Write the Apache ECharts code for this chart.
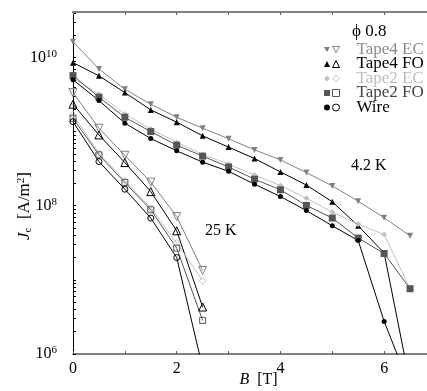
<!DOCTYPE html>
<html>
<head>
<meta charset="utf-8">
<script src="https://cdn.jsdelivr.net/npm/echarts@6/dist/echarts.min.js"></script>
<style>
html, body { margin: 0; padding: 0; background: #fff; }
#chart { width: 427px; height: 391px; }
</style>
</head>
<body>
<div id="chart"></div>
<script>
// Magnetic field B [T] at which Jc was measured
const fieldLow = [0, 0.5, 1, 1.5, 2, 2.5, 3, 3.5, 4, 4.5, 5, 5.5, 6, 6.5]; // 4.2 K sweep
const fieldHigh = [0, 0.5, 1, 1.5, 2, 2.5];                                // 25 K sweep

// Critical current density Jc [A/m^2] at 4.2 K
const tape4EC_4K = [1.63e10, 7.0e9, 3.72e9, 2.34e9, 1.56e9, 1.11e9, 8.0e8, 5.66e8, 4.15e8, 2.80e8, 1.85e8, 1.15e8, 6.87e7, 3.93e7];
const tape4FO_4K = [8.51e9, 5.64e9, 3.36e9, 1.96e9, 1.34e9, 8.75e8, 6.17e8, 4.33e8, 2.86e8, 1.90e8, 1.13e8, 5.36e7, 2.30e7, 4.0e5];
const tape2EC_4K = [5.25e9, 3.19e9, 1.73e9, 1.08e9, 7.19e8, 4.91e8, 3.63e8, 2.59e8, 1.87e8, 1.26e8, 8.20e7, 5.66e7, 4.09e7, 7.59e6];
const tape2FO_4K = [5.69e9, 2.91e9, 1.56e9, 1.00e9, 6.56e8, 4.66e8, 3.33e8, 2.28e8, 1.64e8, 1.01e8, 6.82e7, 3.66e7, 2.27e7, 7.59e6];
const wire_4K    = [5.0e9, 2.62e9, 1.30e9, 8.05e8, 5.50e8, 3.87e8, 2.91e8, 1.95e8, 1.33e8, 8.61e7, 5.36e7, 3.39e7, 2.75e6, 3.6e5];

// Critical current density Jc [A/m^2] at 25 K
const tape4EC_25K = [3.36e9, 1.11e9, 4.79e8, 2.08e8, 7.14e7, 1.34e7];
const tape4FO_25K = [2.34e9, 9.02e8, 3.82e8, 1.55e8, 4.59e7, 4.30e6];
const tape2EC_25K = [1.68e9, 5.12e8, 2.17e8, 9.29e7, 3.13e7, 9.73e6];
const tape2FO_25K = [1.51e9, 4.85e8, 2.06e8, 8.81e7, 2.68e7, 2.84e6];
const wire_25K    = [1.36e9, 3.94e8, 1.67e8, 6.81e7, 2.00e7, 6.5e5];

// Axis ticks
const xTicks = [0, 1, 2, 3, 4, 5, 6, 7];
const xLabels = [0, 2, 4, 6];
const yLabelExps = [6, 8, 10];
const yMin = 1e6, yMax = 4.1e10;

const SERIF = 'Liberation Serif';
const HOLLOW = 'rgba(0,0,0,0)';
const downTri = 'path://M0,0L10,0L5,8.66Z';

// decade ticks plus 2..9 minor ticks of a log axis
const yTickValues = [];
for (let e = 6; e <= 10; e++) {
  for (let m = 1; m <= 9; m++) {
    const v = m * Math.pow(10, e);
    if (v <= yMax) yTickValues.push(v);
  }
}

const pairs = (xs, ys) => xs.map((x, i) => [x, ys[i]]);

const groups = [
  { label: 'Tape4 EC', color: '#808080', text: '#8c8c8c', symbol: 'triangle', rotate: 180, legendIcon: downTri,
    low: tape4EC_4K, high: tape4EC_25K, fillSize: 6, openSize: 8 },
  { label: 'Tape4 FO', color: '#000000', text: '#000000', symbol: 'triangle', rotate: 0, legendIcon: 'triangle',
    low: tape4FO_4K, high: tape4FO_25K, fillSize: 6, openSize: 8 },
  { label: 'Tape2 EC', color: '#c2c2c2', text: '#bcbcbc', symbol: 'diamond', rotate: 0, legendIcon: 'diamond',
    low: tape2EC_4K, high: tape2EC_25K, fillSize: 6, openSize: 7 },
  { label: 'Tape2 FO', color: '#555555', text: '#444444', symbol: 'rect', rotate: 0, legendIcon: 'rect',
    low: tape2FO_4K, high: tape2FO_25K, fillSize: 7, openSize: 6 },
  { label: 'Wire', color: '#000000', text: '#000000', symbol: 'circle', rotate: 0, legendIcon: 'circle',
    low: wire_4K, high: wire_25K, fillSize: 5, openSize: 6 }
];

const series = [];
groups.forEach(g => {
  series.push({
    name: g.label + ' (4.2 K)',
    type: 'line',
    data: pairs(fieldLow, g.low),
    symbol: g.symbol,
    symbolRotate: g.rotate,
    symbolSize: g.fillSize,
    showAllSymbol: true,
    lineStyle: { color: g.color, width: 1 },
    itemStyle: { color: g.color, borderWidth: 0 },
    clip: true
  });
  series.push({
    name: g.label,
    type: 'line',
    data: pairs(fieldHigh, g.high),
    symbol: g.symbol,
    symbolRotate: g.rotate,
    symbolSize: g.openSize,
    showAllSymbol: true,
    lineStyle: { color: g.color, width: 1 },
    itemStyle: { color: HOLLOW, borderColor: g.color, borderWidth: 1 },
    clip: true
  });
});

const legendText = { fontFamily: SERIF, fontSize: 17, lineHeight: 14.5 };

const chart = echarts.init(document.getElementById('chart'), null, { renderer: 'canvas' });
chart.setOption({
  animation: false,
  backgroundColor: '#ffffff',
  grid: { left: 73, right: -9, top: 12, bottom: 37, containLabel: false, outerBoundsMode: 'none' },
  xAxis: [
    {
      type: 'value', min: 0, max: 7, interval: 1, position: 'bottom',
      name: '{i|B}{n|  [T]}',
      nameLocation: 'middle', nameGap: 18, nameMoveOverlap: false,
      nameTextStyle: {
        padding: [0, 0, 0, 8],
        rich: {
          i: { fontFamily: SERIF, fontSize: 16, fontStyle: 'italic', color: '#000' },
          n: { fontFamily: SERIF, fontSize: 16, color: '#000' }
        }
      },
      axisLine: { show: true, lineStyle: { color: '#808080', width: 2 } },
      axisTick: { show: true, inside: true, length: 3, customValues: xTicks, lineStyle: { color: '#606060', width: 1 } },
      axisLabel: {
        customValues: xLabels, margin: 7,
        fontFamily: SERIF, fontSize: 16, color: '#000'
      },
      splitLine: { show: false }
    },
    {
      type: 'value', min: 0, max: 7, interval: 1, position: 'top',
      axisLine: { show: true, lineStyle: { color: '#808080', width: 2 } },
      axisTick: { show: true, inside: true, length: 3, customValues: xTicks, lineStyle: { color: '#606060', width: 1 } },
      axisLabel: { show: false },
      splitLine: { show: false }
    }
  ],
  yAxis: {
    type: 'log', logBase: 10, min: yMin, max: yMax,
    name: '{j|J}{c|c}{u|  [A/m}{s|2}{u|]}',
    nameLocation: 'middle', nameRotate: 90, nameGap: 39, nameMoveOverlap: false,
    nameTextStyle: {
      padding: [0, 46, 0, 0],
      rich: {
        j: { fontFamily: SERIF, fontSize: 17, fontStyle: 'italic', color: '#000', lineHeight: 18, verticalAlign: 'middle' },
        c: { fontFamily: SERIF, fontSize: 11, color: '#000', lineHeight: 18, verticalAlign: 'bottom' },
        u: { fontFamily: SERIF, fontSize: 17, color: '#000', lineHeight: 18, verticalAlign: 'middle' },
        s: { fontFamily: SERIF, fontSize: 11, color: '#000', lineHeight: 18, verticalAlign: 'top' }
      }
    },
    axisLine: { show: true, lineStyle: { color: '#000', width: 1 } },
    axisTick: { show: true, inside: true, length: 3, customValues: yTickValues, lineStyle: { color: '#000', width: 1 } },
    axisLabel: {
      customValues: yLabelExps.map(e => Math.pow(10, e)),
      margin: 16,
      formatter: v => '{b|10}{s|' + Math.round(Math.log10(v)) + '}',
      rich: {
        b: { fontFamily: SERIF, fontSize: 16, color: '#000', lineHeight: 18, verticalAlign: 'middle' },
        s: { fontFamily: SERIF, fontSize: 11, color: '#000', lineHeight: 18, verticalAlign: 'top' }
      }
    },
    splitLine: { show: false }
  },
  legend: [
    {
      orient: 'vertical', left: 324, top: 41, itemGap: -2.5, padding: 0,
      selectedMode: false,
      itemWidth: 6, itemHeight: 6,
      formatter: () => ' ',
      textStyle: legendText,
      data: groups.map(g => ({
        name: g.label + ' (4.2 K)',
        icon: g.legendIcon,
        itemStyle: { color: g.color, borderWidth: 0 }
      }))
    },
    {
      orient: 'vertical', left: 332, top: 41, itemGap: -2.5, padding: 0,
      selectedMode: false,
      itemWidth: 7, itemHeight: 7,
      textStyle: Object.assign({ padding: [0, 0, 0, 12] }, legendText),
      data: groups.map(g => ({
        name: g.label,
        icon: g.legendIcon,
        itemStyle: { color: HOLLOW, borderColor: g.color, borderWidth: 1 },
        textStyle: { color: g.text }
      }))
    }
  ],
  graphic: [
    { type: 'text', left: 352, top: 23, style: { text: 'ϕ 0.8', fontFamily: SERIF, fontSize: 17, fill: '#000' } },
    { type: 'text', left: 351, top: 158, style: { text: '4.2 K', fontFamily: SERIF, fontSize: 16, fill: '#000' } },
    { type: 'text', left: 205, top: 223, style: { text: '25 K', fontFamily: SERIF, fontSize: 16, fill: '#000' } }
  ],
  series: series
});
</script>
</body>
</html>
